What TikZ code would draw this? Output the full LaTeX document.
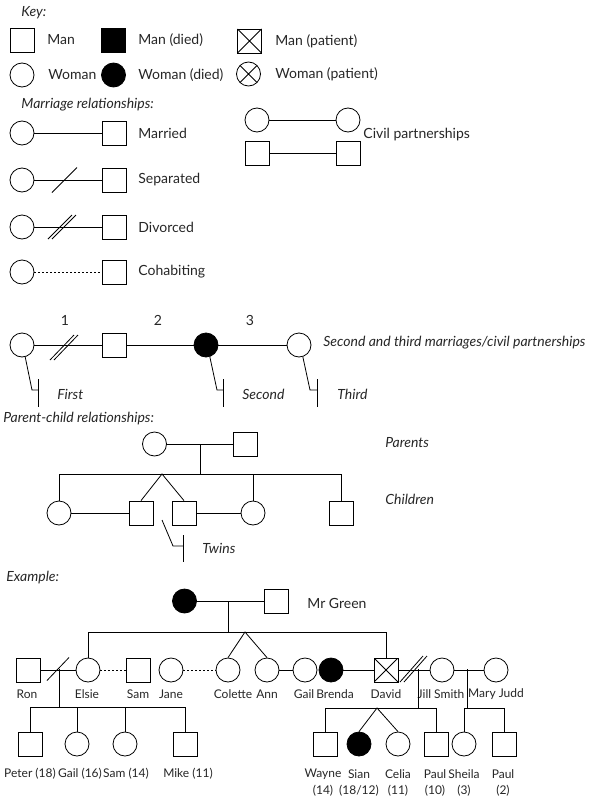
\documentclass[tikz,border=0pt]{standalone}
\usepackage{fontspec}
\setmainfont{Lato}
\usetikzlibrary{calc}
\begin{document}
\begin{tikzpicture}[x=1pt,y=-1pt,line width=0.8pt,
  man/.style={draw, rectangle, minimum size=24pt, inner sep=0pt},
  woman/.style={draw, circle, minimum size=24pt, inner sep=0pt},
  died/.style={fill=black},
  patient/.style={path picture={\draw[line width=0.8pt]
     (path picture bounding box.north west) -- (path picture bounding box.south east)
     (path picture bounding box.north east) -- (path picture bounding box.south west);}},
  txt/.style={anchor=west, inner sep=0pt, text=black!85, font=\fontsize{14}{16}\selectfont},
  itxt/.style={anchor=west, inner sep=0pt, text=black!85, font=\fontsize{14}{16}\selectfont\itshape},
  ctxt/.style={inner sep=0pt, text=black!85, font=\fontsize{14}{16}\selectfont},
  plabel/.style={inner sep=0pt, text=black!85, font=\fontsize{12}{14}\selectfont},
  cohab/.style={dash pattern=on 2pt off 2pt, line width=0.7pt}
]
\useasboundingbox (0,0) rectangle (592,800);

% ---------------- Key
\node[itxt] (tkey) at (21,13) {Key:};
\node[man] (k1) at (22,40) {};
\node[txt] (t1) at (47,40) {Man};
\node[man,died] (k2) at (113.5,40) {};
\node[txt] (t2) at (138,40) {Man (died)};
\node[man,patient] (k3) at (249.5,41) {};
\node[txt] (t3) at (275,41) {Man (patient)};
\node[woman] (k4) at (22,75) {};
\node[txt] (t4) at (48,75) {Woman};
\node[woman,died] (k5) at (113.5,75) {};
\node[txt] (t5) at (138,75) {Woman (died)};
\node[woman,patient] (k6) at (248.5,74) {};
\node[txt] (t6) at (275,74) {Woman (patient)};

% ---------------- Marriage relationships
\node[itxt] (tmar) at (21,105) {Marriage relationships:};
\node[woman] (mw1) at (22,133) {};
\node[man] (mm1) at (114,133) {};
\draw (mw1) -- (mm1);
\node[txt] (tm1) at (138,133) {Married};

\node[woman] (mw2) at (22,180) {};
\node[man] (mm2) at (114,180) {};
\draw (mw2) -- (mm2);
\coordinate (s2) at (64.5,180);
\draw (s2) ++(-12.5,12.5) -- ++(25,-25);
\node[txt] (tm2) at (138,180) {Separated};

\node[woman] (mw3) at (22,227) {};
\node[man] (mm3) at (114,227) {};
\draw (mw3) -- (mm3);
\coordinate (s3) at (62.5,227);
\draw (s3) ++(-14.5,12) -- ++(24,-24);
\draw (s3) ++(-10.5,12) -- ++(24,-24);
\node[txt] (tm3) at (138,227) {Divorced};

\node[woman] (mw4) at (22,272) {};
\node[man] (mm4) at (114,272) {};
\draw[cohab] (mw4) -- (mm4);
\node[txt] (tm4) at (138,272) {Cohabiting};

\node[woman] (cw1) at (257,120) {};
\node[woman] (cw2) at (348,120) {};
\draw (cw1) -- (cw2);
\node[man] (cm1) at (257,153.5) {};
\node[man] (cm2) at (348,153.5) {};
\draw (cm1) -- (cm2);
\node[txt] (tcp) at (363,135) {Civil partnerships};

% ---------------- Second and third marriages
\node[woman] (a1) at (22,345) {};
\node[man] (a2) at (114,345) {};
\node[woman,died] (a3) at (206,345) {};
\node[woman] (a4) at (299,345) {};
\draw (a1) -- (a2);
\draw (a2) -- (a3);
\draw (a3) -- (a4);
\coordinate (d1) at (64,347);
\draw (d1) ++(-14,13) -- ++(24,-25);
\draw (d1) ++(-10,13) -- ++(24,-25);
\node[ctxt] (n1) at (65,320) {1};
\node[ctxt] (n2) at (158,320) {2};
\node[ctxt] (n3) at (250,320) {3};
\node[itxt] (tsec) at (323,343) {Second and third marriages/civil partnerships};

\coordinate (p1a) at (32,390); \coordinate (p1b) at (38,390);
\coordinate (p1t) at (38,379); \coordinate (p1u) at (38,407);
\draw (a1.-75) -- (p1a) -- (p1b);
\draw (p1t) -- (p1u);
\node[itxt] (tf) at (57,394) {First};

\coordinate (p2a) at (217,390); \coordinate (p2b) at (223,390);
\coordinate (p2t) at (223,379); \coordinate (p2u) at (223,407);
\draw (a3.-72) -- (p2a) -- (p2b);
\draw (p2t) -- (p2u);
\node[itxt] (ts) at (242,394) {Second};

\coordinate (p3a) at (310,390); \coordinate (p3b) at (317,390);
\coordinate (p3t) at (317,379); \coordinate (p3u) at (317,407);
\draw (a4.-72) -- (p3a) -- (p3b);
\draw (p3t) -- (p3u);
\node[itxt] (tt) at (337,394) {Third};

% ---------------- Parent-child relationships
\node[itxt] (tpc) at (3,419) {Parent-child relationships:};
\node[woman] (pw) at (154.5,444) {};
\node[man] (pm) at (245,444) {};
\draw (pw) -- (pm);
\coordinate (pj) at (200,444); \coordinate (ps) at (200,474);
\draw (pj) -- (ps);
\coordinate (sl) at (59,474); \coordinate (sr) at (341,474);
\draw (sl) -- (sr);
\node[woman] (ch1) at (59,513) {};
\node[man] (ch2) at (141,513) {};
\node[man] (ch3) at (184,513) {};
\node[woman] (ch4) at (253,513) {};
\node[man] (ch5) at (341,513) {};
\draw (sl) -- (ch1);
\coordinate (tw) at (162,474);
\draw (ch2.north) -- (tw) -- (ch3.north);
\coordinate (s4) at (253,474);
\draw (s4) -- (ch4);
\draw (sr) -- (ch5);
\draw (ch1) -- (ch2);
\draw (ch3) -- (ch4);
\coordinate (tp0) at (162,520); \coordinate (tpa) at (173,546); \coordinate (tpb) at (183,546);
\coordinate (tpt) at (183,535); \coordinate (tpu) at (183,562);
\draw (tp0) -- (tpa) -- (tpb);
\draw (tpt) -- (tpu);
\node[itxt] (tpar) at (385,443) {Parents};
\node[itxt] (tchi) at (385,499) {Children};
\node[itxt] (ttw) at (202,548) {Twins};

% ---------------- Example
\node[itxt] (tex) at (6,578) {Example:};
\node[woman,died] (g1) at (184.5,601) {};
\node[man] (g2) at (276,601) {};
\draw (g1) -- (g2);
\node[txt] (tmg) at (307,603) {Mr Green};
\coordinate (gj) at (228,601); \coordinate (gs) at (228,632);
\draw (gj) -- (gs);
\coordinate (el) at (88,632); \coordinate (dv) at (386,632);
\draw (el) -- (dv);

\node[man] (ron) at (28,670) {};
\node[woman] (elsie) at (88,670) {};
\node[man] (sam) at (138,670) {};
\node[woman] (jane) at (171,670) {};
\node[woman] (colette) at (228,670) {};
\node[woman] (ann) at (267,670) {};
\node[woman] (gail) at (305,670) {};
\node[woman,died] (brenda) at (331,670) {};
\node[man,patient] (david) at (386,670) {};
\node[woman] (jill) at (442,670) {};
\node[woman] (mary) at (496,670) {};

\draw (el) -- (elsie);
\draw (dv) -- (david);
\coordinate (tw2) at (245,632);
\draw (colette.north) -- (tw2) -- (ann.north);
\draw (ron) -- (elsie);
\coordinate (s5) at (58,669);
\draw (s5) ++(-11,11.5) -- ++(22,-23);
\draw[cohab] (elsie) -- (sam);
\draw[cohab] (jane) -- (colette);
\draw (ann) -- (gail);
\draw (brenda) -- (david);
\draw (david) -- (jill);
\coordinate (s6) at (414.5,669);
\draw (s6) ++(-14.5,13) -- ++(23,-26);
\draw (s6) ++(-10.5,13) -- ++(23,-26);
\draw (jill) -- (mary);

\node[plabel] (lron) at (27,694) {Ron};
\node[plabel] (lelsie) at (87,694) {Elsie};
\node[plabel] (lsam) at (138,694) {Sam};
\node[plabel] (ljane) at (171,694) {Jane};
\node[plabel] (lcol) at (233,694) {Colette};
\node[plabel] (lann) at (267,694) {Ann};
\node[plabel] (lgail) at (304,694) {Gail};
\node[plabel] (lbren) at (335,694) {Brenda};
\node[plabel] (ldav) at (386,694) {David};
\node[plabel] (ljill) at (441,694) {Jill Smith};
\node[plabel] (lmary) at (496,694) {Mary Judd};

% children of Ron and Elsie
\coordinate (re) at (59,669); \coordinate (red) at (59,707);
\draw (re) -- (red);
\coordinate (rl) at (30,707); \coordinate (rr) at (185,707);
\draw (rl) -- (rr);
\node[man] (peter) at (30,744) {};
\node[woman] (gail2) at (77,744) {};
\node[woman] (sam2) at (125,744) {};
\node[man] (mike) at (185,744) {};
\coordinate (r2) at (77,707); \coordinate (r3) at (125,707);
\draw (rl) -- (peter);
\draw (r2) -- (gail2);
\draw (r3) -- (sam2);
\draw (rr) -- (mike);
\node[plabel] (lpet) at (30,774) {Peter (18)};
\node[plabel] (lgai) at (80,774) {Gail (16)};
\node[plabel] (lsa) at (126,774) {Sam (14)};
\node[plabel] (lmik) at (188,774) {Mike (11)};

% children of David and Jill
\coordinate (dj) at (418,669); \coordinate (djd) at (418,708);
\draw (dj) -- (djd);
\coordinate (dl) at (325,708); \coordinate (dr) at (436,708);
\draw (dl) -- (dr);
\node[man] (wayne) at (325,744) {};
\node[woman,died] (sian) at (359,744) {};
\node[woman] (celia) at (398,744) {};
\node[man] (paul) at (436,744) {};
\draw (dl) -- (wayne);
\coordinate (tw3) at (377,708);
\draw (sian.north) -- (tw3) -- (celia.north);
\draw (dr) -- (paul);

% children of Jill and Mary
\coordinate (jm) at (467,669); \coordinate (jmd) at (467,708);
\draw (jm) -- (jmd);
\coordinate (jl) at (464,708); \coordinate (jr) at (504,708);
\draw (jl) -- (jr);
\node[woman] (sheila) at (464,744) {};
\node[man] (paul2) at (504,744) {};
\draw (jl) -- (sheila);
\draw (jr) -- (paul2);

\node[plabel] (lway) at (323,774) {Wayne};
\node[plabel] (lsia) at (359,774) {Sian};
\node[plabel] (lcel) at (398,774) {Celia};
\node[plabel] (lpau) at (435,774) {Paul};
\node[plabel] (lshe) at (464,774) {Sheila};
\node[plabel] (lpa2) at (503,774) {Paul};
\node[plabel] (aw) at (323,791) {(14)};
\node[plabel] (as) at (359,791) {(18/12)};
\node[plabel] (ac) at (398,791) {(11)};
\node[plabel] (ap) at (435,791) {(10)};
\node[plabel] (ash) at (464,791) {(3)};
\node[plabel] (ap2) at (503,791) {(2)};
\end{tikzpicture}
\end{document}
